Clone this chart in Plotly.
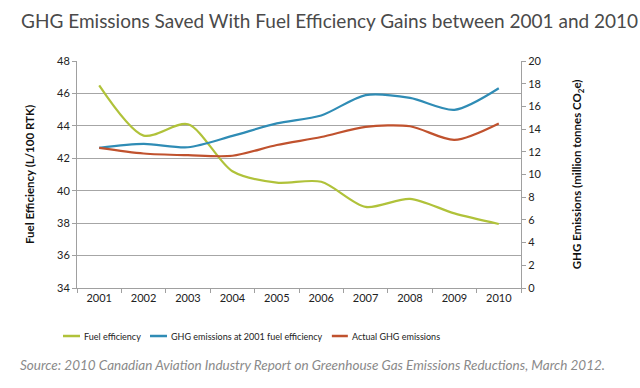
import plotly.graph_objects as go

years = ["2001", "2002", "2003", "2004", "2005", "2006", "2007", "2008", "2009", "2010"]
fuel_efficiency = [46.5, 43.4, 44.1, 41.2, 40.5, 40.55, 39.0, 39.5, 38.6, 37.95]
ghg_at_2001 = [12.35, 12.7, 12.4, 13.4, 14.5, 15.2, 17.0, 16.75, 15.7, 17.6]
ghg_actual = [12.35, 11.85, 11.7, 11.65, 12.6, 13.3, 14.2, 14.25, 13.05, 14.5]
series_names = ["Fuel efficiency", "GHG emissions at 2001 fuel efficiency", "Actual GHG emissions"]

FONT = "Lato"
COLORS = ["#b0c23a", "#2f8cb5", "#c0522e"]

fig = go.Figure()
fig.add_trace(go.Scatter(x=years, y=fuel_efficiency, name=series_names[0], showlegend=False,
                         mode="lines", line=dict(color=COLORS[0], width=2.2, shape="spline", smoothing=0.8)))
fig.add_trace(go.Scatter(x=years, y=ghg_at_2001, name=series_names[1], showlegend=False,
                         mode="lines", yaxis="y2",
                         line=dict(color=COLORS[1], width=2.2, shape="spline", smoothing=0.8)))
fig.add_trace(go.Scatter(x=years, y=ghg_actual, name=series_names[2], showlegend=False,
                         mode="lines", yaxis="y2",
                         line=dict(color=COLORS[2], width=2.2, shape="spline", smoothing=0.8)))

# custom legend (short swatches like the original)
LEG_Y = -0.2115
swatch_x = [(-0.0315, 0.0068), (0.1644, 0.2027), (0.574, 0.610)]
shapes = []
annotations = []
for (x0, x1), name, col in zip(swatch_x, series_names, COLORS):
    shapes.append(dict(type="line", xref="paper", yref="paper", x0=x0, x1=x1, y0=LEG_Y, y1=LEG_Y,
                       line=dict(color=col, width=2.5)))
    annotations.append(dict(text=name, xref="paper", yref="paper", x=x1 + 0.005, y=LEG_Y,
                            xanchor="left", yanchor="middle", showarrow=False,
                            font=dict(family=FONT, size=9, color="#222222")))

annotations += [
    dict(text="<b>Fuel Efficiency (L/100 RTK)</b>", xref="paper", yref="paper",
         x=-0.107, y=0.5, textangle=-90, showarrow=False, xanchor="center", yanchor="middle",
         font=dict(family=FONT, size=11.5, color="#111111")),
    dict(text="<b>GHG Emissions (million tonnes CO<sub>2</sub>e)</b>", xref="paper", yref="paper",
         x=1.128, y=0.5, textangle=-90, showarrow=False, xanchor="center", yanchor="middle",
         font=dict(family=FONT, size=11.5, color="#111111")),
    dict(text="<i>Source: 2010 Canadian Aviation Industry Report on Greenhouse Gas Emissions Reductions, March 2012.</i>",
         xref="paper", yref="paper", x=-0.133, y=-0.34, xanchor="left", yanchor="middle",
         showarrow=False, font=dict(family=FONT, size=13.5, color="#8a8a8a")),
]

fig.update_layout(
    width=640, height=388,
    margin=dict(l=77, r=119, t=61, b=100),
    paper_bgcolor="white", plot_bgcolor="white",
    font=dict(family=FONT, color="#333333"),
    showlegend=False,
    title=dict(text="GHG Emissions Saved With Fuel Efficiency Gains between 2001 and 2010",
               x=0.033, xanchor="left", y=0.945, yanchor="middle",
               font=dict(family=FONT, size=19, color="#4a4a4a")),
    xaxis=dict(type="category", range=[-0.5, 9.5], showgrid=False, showline=True, linecolor="#a0a0a0",
               ticks="outside", tickson="boundaries", ticklen=4, tickcolor="#a0a0a0",
               tickfont=dict(family=FONT, size=11, color="#222222")),
    yaxis=dict(range=[34, 48], dtick=2, showgrid=True, gridcolor="#a6a6a6", gridwidth=1,
               showline=True, linecolor="#a0a0a0", ticks="outside", ticklen=4, tickcolor="#a0a0a0",
               zeroline=False, tickfont=dict(family=FONT, size=11, color="#222222")),
    yaxis2=dict(range=[0, 20], dtick=2, overlaying="y", side="right", showgrid=False,
                showline=True, linecolor="#a0a0a0", ticks="outside", ticklen=4, tickcolor="#a0a0a0",
                zeroline=False, tickfont=dict(family=FONT, size=11, color="#222222")),
    shapes=shapes,
    annotations=annotations,
)

fig.write_html("out.html", config={"displayModeBar": False},
               post_script="document.body.style.margin='0';")
